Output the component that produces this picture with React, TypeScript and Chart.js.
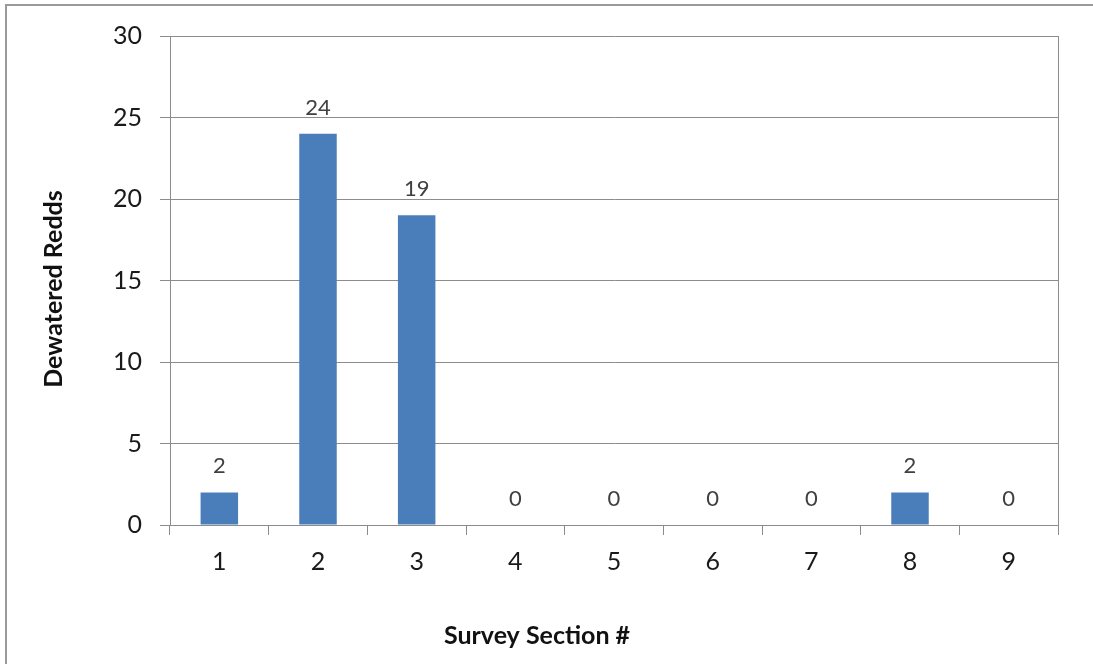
import React, { useEffect, useRef } from "react";
import { Chart, registerables } from "chart.js";

Chart.register(...registerables);

const categories: string[] = ["1", "2", "3", "4", "5", "6", "7", "8", "9"];
const dewateredRedds: number[] = [2, 24, 19, 0, 0, 0, 0, 2, 0];
const yTitle = "Dewatered Redds";
const xTitle = "Survey Section #";

const FONT = "Lato, 'Open Sans', sans-serif";

const framePlugin = {
  id: "frame",
  beforeDraw(chart: any) {
    const ctx = chart.ctx;
    ctx.save();
    ctx.fillStyle = "#ffffff";
    ctx.fillRect(0, 0, chart.width, chart.height);
    ctx.strokeStyle = "#9a9a9a";
    ctx.lineWidth = 2;
    ctx.beginPath();
    ctx.moveTo(6, chart.height);
    ctx.lineTo(6, 5);
    ctx.lineTo(chart.width, 5);
    ctx.stroke();
    ctx.restore();
  },
  afterDraw(chart: any) {
    const ctx = chart.ctx;
    const a = chart.chartArea;
    ctx.save();
    ctx.strokeStyle = "#8c8c8c";
    ctx.lineWidth = 1;
    ctx.beginPath();
    ctx.moveTo(Math.round(a.right) + 0.5, a.top);
    ctx.lineTo(Math.round(a.right) + 0.5, a.bottom);
    ctx.stroke();
    // axis titles (positioned like the original, not centred on the plot)
    ctx.fillStyle = "#111111";
    ctx.font = `bold 25px ${FONT}`;
    ctx.textAlign = "center";
    ctx.textBaseline = "middle";
    ctx.fillText(xTitle, 537, 636);
    ctx.translate(54, 289);
    ctx.rotate(-Math.PI / 2);
    ctx.fillText(yTitle, 0, 0);
    ctx.restore();
  },
};

const labelPlugin = {
  id: "valueLabels",
  afterDatasetsDraw(chart: any) {
    const ctx = chart.ctx;
    ctx.save();
    ctx.font = `22px ${FONT}`;
    ctx.fillStyle = "#404040";
    ctx.textAlign = "center";
    ctx.textBaseline = "alphabetic";
    chart.data.datasets.forEach((ds: any, i: number) => {
      const meta = chart.getDatasetMeta(i);
      meta.data.forEach((el: any, j: number) => {
        ctx.fillText(String(ds.data[j]), el.x, el.y - 19);
      });
    });
    ctx.restore();
  },
};

export default function App() {
  const ref = useRef<HTMLCanvasElement | null>(null);
  useEffect(() => {
    document.body.style.margin = "0";
    const canvas = ref.current;
    if (!canvas) return;
    const chart = new Chart(canvas, {
      type: "bar",
      data: {
        labels: categories,
        datasets: [
          {
            data: dewateredRedds,
            backgroundColor: "#4A7EBB",
            borderWidth: 0,
            categoryPercentage: 1,
            barPercentage: 0.38,
          },
        ],
      },
      plugins: [framePlugin, labelPlugin],
      options: {
        animation: false,
        responsive: false,
        maintainAspectRatio: false,
        layout: { padding: { left: 0, top: 36, right: 35, bottom: 0 } },
        plugins: {
          legend: { display: false },
          tooltip: { enabled: false },
        },
        scales: {
          x: {
            afterFit(scale: any) {
              scale.height = 139;
            },
            grid: {
              drawOnChartArea: false,
              drawTicks: true,
              tickLength: 10,
              color: "#8c8c8c",
              offset: true,
            },
            border: { display: true, color: "#8c8c8c" },
            ticks: {
              color: "#1a1a1a",
              font: { family: FONT, size: 25 },
              padding: 12,
              maxRotation: 0,
            },
          },
          y: {
            min: 0,
            max: 30,
            afterFit(scale: any) {
              scale.width = 170;
            },
            grid: {
              color: "#8c8c8c",
              tickLength: 10,
              drawTicks: true,
            },
            border: { display: true, color: "#8c8c8c" },
            ticks: {
              stepSize: 5,
              color: "#1a1a1a",
              font: { family: FONT, size: 25 },
              padding: 18,
            },
          },
        },
      },
    });
    return () => chart.destroy();
  }, []);
  return (
    <canvas
      ref={ref}
      width={1093}
      height={664}
      style={{ display: "block", width: 1093, height: 664 }}
    />
  );
}
